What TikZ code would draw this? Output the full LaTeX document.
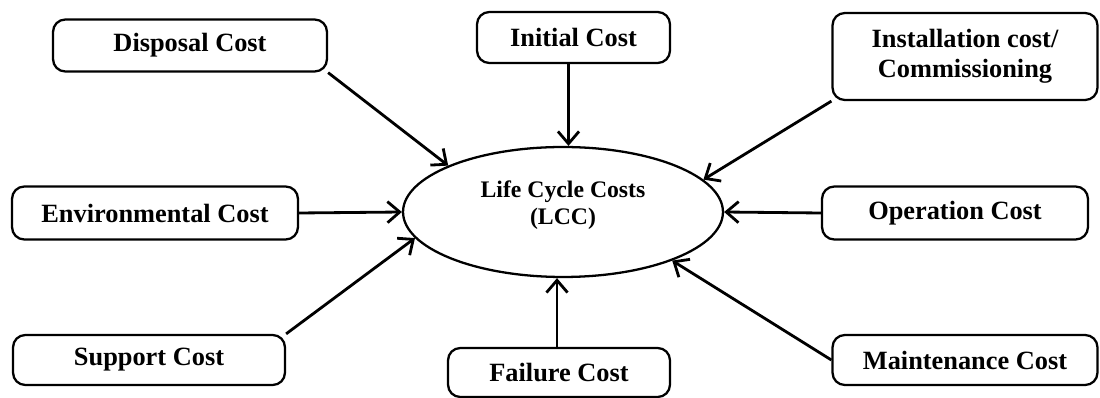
\documentclass[tikz,border=0pt]{standalone}
\usepackage{fontspec}
\setmainfont{Liberation Serif}
\usetikzlibrary{arrows.meta,shapes.geometric}

\begin{document}
\begin{tikzpicture}[x=0.02cm, y=-0.02cm,
  box/.style={draw, line width=1.3pt, rounded corners=7pt, align=center,
    font=\fontsize{15}{17}\selectfont\bfseries, inner sep=0pt},
  link/.style={line width=1.6pt, -{Straight Barb[length=7pt,width=12pt,line width=1.6pt]}}]

\useasboundingbox (0,0) rectangle (1100,398);

% Centre
\node[draw, ellipse, line width=1.3pt, minimum width=6.4cm, minimum height=2.6cm] (lcc) at (563,212) {};
\node[align=center, font=\fontsize{13.5}{15.5}\selectfont\bfseries] (lcctext) at ([yshift=0.14cm]lcc.center)
  {Life Cycle Costs\\(LCC)};

% Cost boxes
\node[box, minimum width=5.48cm, minimum height=1.04cm] (disp) at (190,45.5) {Disposal Cost};
\node[box, minimum width=3.86cm, minimum height=1.02cm] (init) at (573.5,37.5) {Initial Cost};
\node[box, minimum width=5.3cm, minimum height=1.74cm] (inst) at (965,56.5) {Installation cost/\\Commissioning};
\node[box, minimum width=5.72cm, minimum height=1.06cm] (env) at (155,213) {Environmental Cost};
\node[box, minimum width=5.32cm, minimum height=1.06cm] (oper) at (955,213) {Operation Cost};
\node[box, minimum width=5.44cm, minimum height=1.0cm] (supp) at (149,360) {Support Cost};
\node[box, minimum width=4.44cm, minimum height=0.98cm] (fail) at (559,372.5) {Failure Cost};
\node[box, minimum width=5.3cm, minimum height=1.0cm] (maint) at (965,360) {Maintenance Cost};

% Arrows into the centre
\draw[link] (disp.south east) -- (lcc.158);
\draw[link] ([xshift=-0.1cm]init.south) -- ([xshift=-0.1cm]init.south |- lcc.north);
\draw[link] (inst.south west) -- (lcc.13);
\draw[link] (env.east) -- (lcc.west);
\draw[link] (oper.west) -- (lcc.east);
\draw[link] (supp.north east) -- (lcc.190);
\draw[link] ([xshift=-0.04cm]fail.north) -- ([xshift=-0.04cm]fail.north |- lcc.south);
\draw[link] (maint.west) -- (lcc.336);

\end{tikzpicture}
\end{document}
